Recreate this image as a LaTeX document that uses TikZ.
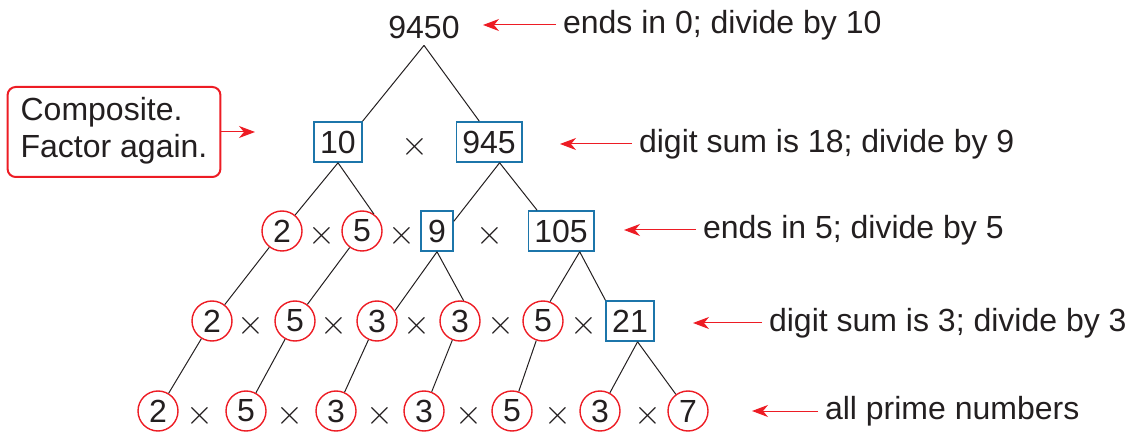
\documentclass[tikz,border=0pt]{standalone}
\usepackage{fontspec}
\setmainfont{Liberation Sans}
\usepackage{xcolor}
\usepackage{tikz}
\usetikzlibrary{arrows.meta}
\definecolor{markred}{RGB}{237,28,36}
\definecolor{boxblue}{RGB}{28,117,170}
\definecolor{inkgray}{RGB}{35,31,32}

\begin{document}
\begin{tikzpicture}[x=0.5pt, y=-0.5pt,
    every node/.style={font=\fontsize{16}{18.5}\selectfont, text=inkgray},
    prime/.style={circle, draw=markred, line width=0.7pt, minimum size=20pt, inner sep=0pt},
    comp/.style={rectangle, draw=boxblue, line width=0.8pt, minimum height=20pt, minimum width=16pt, inner xsep=3pt},
    times/.style={inner sep=0pt},
    note/.style={anchor=west},
    pointer/.style={-{Stealth[length=8pt, width=6pt, inset=2.5pt]}, draw=markred, line width=0.5pt},
    branch/.style={draw=inkgray, line width=0.5pt}]
            \useasboundingbox (0,0) rectangle (1134,432);
            % tree
            \node (top) at (424,27) {9450};
            \node[comp] (r1a) at (338,142) {10};
            \node[times] (m1) at (415,147) {$\times$};
            \node[comp] (r1b) at (489,142) {945};
            \node[prime] (r2a) at (282,231) {2};
            \node[times] (m2a) at (322,236) {$\times$};
            \node[prime] (r2b) at (362,231) {5};
            \node[times] (m2b) at (402,236) {$\times$};
            \node[comp] (r2c) at (437,231) {9};
            \node[times] (m2c) at (490,236) {$\times$};
            \node[comp] (r2d) at (561,231) {105};
            \node[prime] (r3a) at (212,321) {2};
            \node[times] (m3a) at (251,326) {$\times$};
            \node[prime] (r3b) at (295,321) {5};
            \node[times] (m3b) at (334,326) {$\times$};
            \node[prime] (r3c) at (377,321) {3};
            \node[times] (m3c) at (417,326) {$\times$};
            \node[prime] (r3d) at (460,321) {3};
            \node[times] (m3d) at (501,326) {$\times$};
            \node[prime] (r3e) at (543,321) {5};
            \node[times] (m3e) at (584,326) {$\times$};
            \node[comp] (r3f) at (630,321) {21};
            \node[prime] (r4a) at (158,411) {2};
            \node[times] (m4a) at (200,416) {$\times$};
            \node[prime] (r4b) at (246,411) {5};
            \node[times] (m4b) at (290,416) {$\times$};
            \node[prime] (r4c) at (336,411) {3};
            \node[times] (m4c) at (380,416) {$\times$};
            \node[prime] (r4d) at (424,411) {3};
            \node[times] (m4d) at (469,416) {$\times$};
            \node[prime] (r4e) at (512,411) {5};
            \node[times] (m4e) at (558,416) {$\times$};
            \node[prime] (r4f) at (600,411) {3};
            \node[times] (m4f) at (648,416) {$\times$};
            \node[prime] (r4g) at (688,411) {7};
            \draw[branch] (top.south) -- (r1a.north east);
            \draw[branch] (top.south) -- (r1b.115);
            \draw[branch] (r1a.south) -- (r2a);
            \draw[branch] (r1a.south) -- (r2b.55);
            \draw[branch] (r1b.-63) -- (r2c.30);
            \draw[branch] (r1b.-63) -- (r2d.139);
            \draw[branch] (r2a) -- (r3a);
            \draw[branch] (r2b) -- (r3b);
            \draw[branch] (r2c.south) -- (r3c.30);
            \draw[branch] (r2c.south) -- (r3d.80);
            \draw[branch] (r2d.-48) -- (r3e.70);
            \draw[branch] (r2d.-48) -- (r3f.north west);
            \draw[branch] (r3a) -- (r4a);
            \draw[branch] (r3b) -- (r4b);
            \draw[branch] (r3c) -- (r4c);
            \draw[branch] (r3d) -- (r4d);
            \draw[branch] (r3e) -- (r4e);
            \draw[branch] (r3f.-70) -- (r4f);
            \draw[branch] (r3f.-70) -- (r4g);
            % notes
            \node[rectangle, rounded corners=4pt, draw=markred, line width=1pt, align=left,
                minimum width=106pt, minimum height=45pt, inner xsep=6.5pt, text depth=5pt] (compnote) at (114,132) {Composite.\\Factor again.};
            \coordinate (tipc) at (255,132);
            \draw[pointer] (compnote) -- (tipc);
            \node[note] (lab0) at (556,25) {ends in 0; divide by 10};
            \coordinate (tip0) at (483,25);
            \draw[pointer] (lab0) -- (tip0);
            \node[note] (lab1) at (632,144) {digit sum is 18; divide by 9};
            \coordinate (tip1) at (560,144);
            \draw[pointer] (lab1) -- (tip1);
            \node[note] (lab2) at (696,230) {ends in 5; divide by 5};
            \coordinate (tip2) at (624,230);
            \draw[pointer] (lab2) -- (tip2);
            \node[note] (lab3) at (762,323) {digit sum is 3; divide by 3};
            \coordinate (tip3) at (693,323);
            \draw[pointer] (lab3) -- (tip3);
            \node[note] (lab4) at (818,411) {all prime numbers};
            \coordinate (tip4) at (752,411);
            \draw[pointer] (lab4) -- (tip4);
        \end{tikzpicture}
\end{document}
